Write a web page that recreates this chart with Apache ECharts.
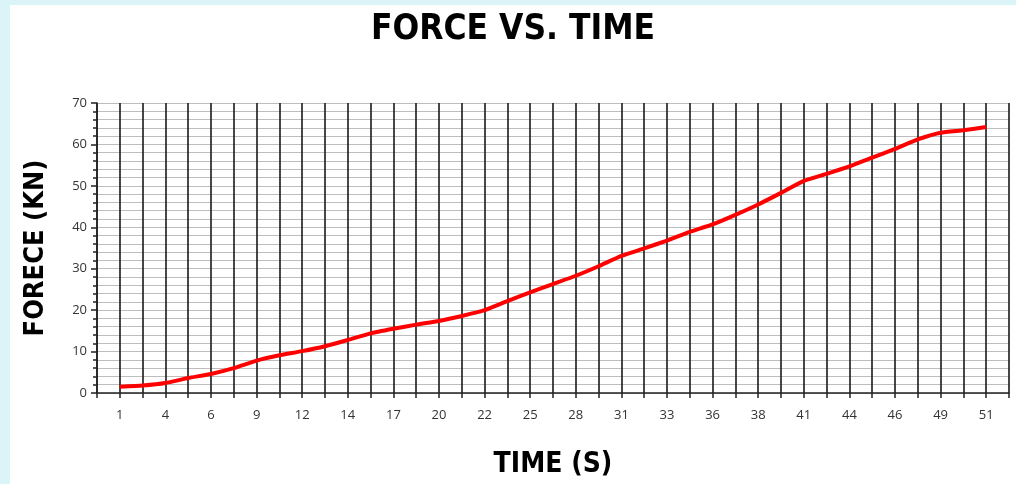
<!DOCTYPE html>
<html>
<head>
<meta charset="utf-8">
<title>Force vs. Time</title>
<script src="https://cdn.jsdelivr.net/npm/echarts@6/dist/echarts.min.js"></script>
<style>
    html, body { margin: 0; padding: 0; background: #daf4f8; }
    #main { position: absolute; left: 10px; top: 5px; width: 1006px; height: 479px; background: #fff; }
</style>
</head>
<body>
<div id="main"></div>
<script>
// time (s) - only every other label is printed on the axis
var times = ['1', '2.5', '4', '5', '6', '7.5', '9', '10.5', '12', '13', '14', '15.5', '17', '18.5',
    '20', '21', '22', '23.5', '25', '26.5', '28', '29.5', '31', '32', '33', '34.5', '36', '37',
    '38', '39.5', '41', '42.5', '44', '45', '46', '47.5', '49', '50', '51'];

// force (kN)
var force = [1.5, 1.8, 2.4, 3.6, 4.6, 6.0, 7.8, 9.1, 10.1, 11.3, 12.8, 14.4, 15.5, 16.5,
    17.4, 18.6, 20.0, 22.2, 24.3, 26.3, 28.3, 30.6, 33.1, 34.9, 36.8, 38.9, 40.7, 43.0,
    45.5, 48.3, 51.2, 52.9, 54.7, 56.8, 58.9, 61.2, 62.8, 63.4, 64.2];

var yTicks = [0, 10, 20, 30, 40, 50, 60, 70];

// one empty slot at each end so the first point sits one step in from the y axis
var cats = [''].concat(times, ['']);
var vals = ['-'].concat(force, ['-']);

var narrow = '"DejaVu Sans Condensed", "Open Sans", sans-serif';

var myChart = echarts.init(document.getElementById('main'));

var option = {
    backgroundColor: '#fff',
    animation: false,
    title: {
        text: 'FORCE VS. TIME',
        left: 'center',
        top: 2,
        textStyle: {
            fontFamily: narrow,
            fontSize: 35,
            fontWeight: 'bold',
            color: '#000'
        }
    },
    grid: {
        left: 87,
        right: 7,
        top: 98,
        bottom: 90
    },
    xAxis: {
        type: 'category',
        data: cats,
        boundaryGap: false,
        name: 'TIME (S)',
        nameLocation: 'middle',
        nameGap: 58,
        nameTextStyle: {
            fontFamily: narrow,
            fontSize: 28,
            fontWeight: 'bold',
            color: '#000'
        },
        axisLine: { lineStyle: { color: '#222', width: 1.5 } },
        axisTick: {
            show: true,
            interval: 0,
            length: 5,
            lineStyle: { color: '#222', width: 1.5 }
        },
        axisLabel: {
            interval: function (i) { return i % 2 === 1; },
            margin: 16,
            fontFamily: 'Open Sans',
            fontSize: 13,
            color: '#333'
        },
        splitLine: {
            show: true,
            interval: 0,
            lineStyle: { color: '#1a1a1a', width: 1.6 }
        }
    },
    yAxis: {
        type: 'value',
        min: yTicks[0],
        max: yTicks[yTicks.length - 1],
        interval: 10,
        name: 'FORECE (KN)',
        nameLocation: 'middle',
        nameGap: 48,
        nameTextStyle: {
            fontFamily: narrow,
            fontSize: 27,
            fontWeight: 'bold',
            color: '#000'
        },
        axisLine: { show: true, lineStyle: { color: '#222', width: 1.5 } },
        axisTick: { show: true, length: 6, lineStyle: { color: '#222', width: 1.5 } },
        minorTick: { show: true, splitNumber: 5, length: 4, lineStyle: { color: '#222', width: 1.5 } },
        axisLabel: {
            margin: 10,
            fontFamily: 'Open Sans',
            fontSize: 13,
            color: '#333'
        },
        splitLine: { show: true, lineStyle: { color: '#bdbdbd', width: 1 } },
        minorSplitLine: { show: true, lineStyle: { color: '#bdbdbd', width: 1 } }
    },
    series: [{
        name: 'Force',
        type: 'line',
        data: vals,
        symbol: 'none',
        smooth: 0.15,
        lineStyle: { color: '#ff0000', width: 4 },
        z: 5
    }]
};
myChart.setOption(option);
</script>
</body>
</html>
